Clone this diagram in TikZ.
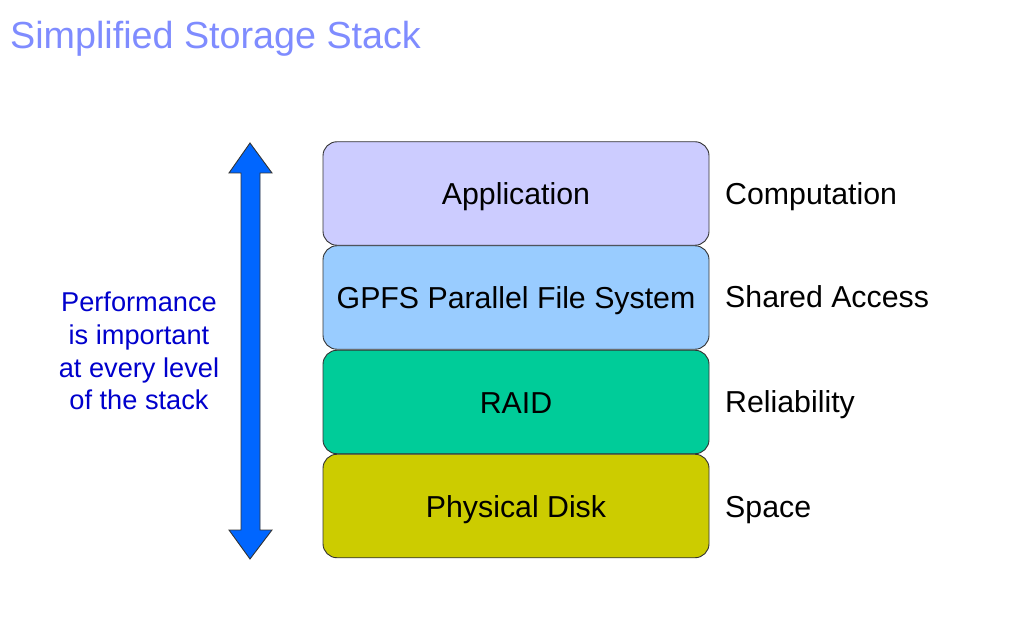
\documentclass[tikz,border=0pt]{standalone}
\usepackage{fontspec}
\setmainfont{Liberation Sans}
\definecolor{titleblue}{HTML}{7F8CFF}
\definecolor{textblue}{HTML}{0000CC}
\definecolor{arrowblue}{HTML}{0066FF}
\definecolor{appfill}{HTML}{CCCCFF}
\definecolor{gpfsfill}{HTML}{99CCFF}
\definecolor{raidfill}{HTML}{00CC99}
\definecolor{diskfill}{HTML}{CCCC00}
\definecolor{edge}{HTML}{333333}
\tikzset{
  layer/.style={draw=edge, line width=0.9pt, rounded corners=14pt, minimum width=386pt, minimum height=103.5pt, inner sep=0pt, text height=23pt, text depth=0pt, font=\fontsize{30.3}{36}\selectfont},
  sidelabel/.style={anchor=base west, inner sep=0pt, font=\fontsize{30.3}{36}\selectfont},
}
\begin{document}
\begin{tikzpicture}[x=1pt,y=-1pt]
\useasboundingbox (0,0) rectangle (1010,620);
\node[anchor=base west, inner sep=0pt, text=titleblue, font=\fontsize{37.7}{44}\selectfont] (title) at (10,49) {Simplified Storage Stack};
\node[layer, fill=appfill] (app) at (516,193.5) {Application};
\node[layer, fill=gpfsfill] (gpfs) at (516,297.5) {GPFS Parallel File System};
\node[layer, fill=raidfill] (raid) at (516,402) {RAID};
\node[layer, fill=diskfill] (disk) at (516,506) {Physical Disk};
\node[sidelabel] (l1) at (725,205) {Computation};
\node[sidelabel] (l2) at (725,308) {Shared Access};
\node[sidelabel] (l3) at (725,413) {Reliability};
\node[sidelabel] (l4) at (725,517) {Space};
\draw[fill=arrowblue, draw=edge, line width=0.9pt, line join=miter]
  (250,143) -- (272,173) -- (260,173) -- (260,530) -- (272,530) -- (250,559)
  -- (229,530) -- (241,530) -- (241,173) -- (229,173) -- cycle;
\node[align=center, text=textblue, inner sep=0pt, font=\fontsize{27.2}{32.7}\selectfont] (perf) at (139,351) {Performance\\is important\\at every level\\of the stack};
\end{tikzpicture}
\end{document}
